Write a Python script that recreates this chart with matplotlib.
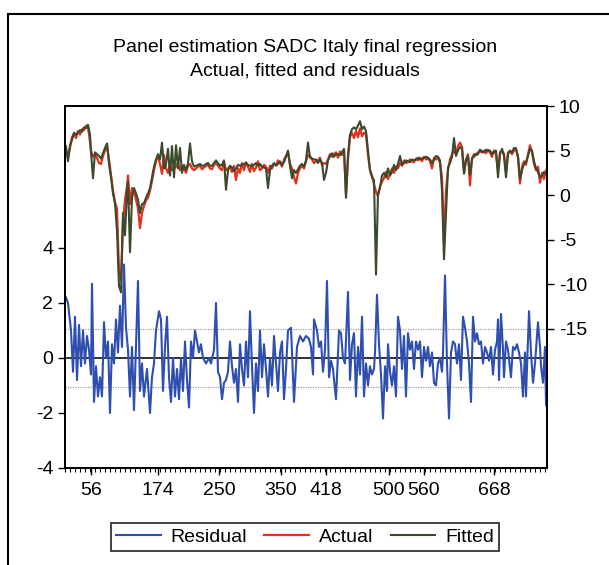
import matplotlib
matplotlib.use('Agg')
import matplotlib.pyplot as plt
from matplotlib.lines import Line2D
from matplotlib.ticker import MultipleLocator

plt.rcParams['font.family'] = ['Liberation Sans', 'DejaVu Sans']
plt.rcParams['axes.unicode_minus'] = False

# observation index along the panel (position on the axis)
top_x = ([1, 3, 5, 7, 9, 11, 13, 15, 17, 19, 21, 23, 25,
          26, 28, 30, 32, 34, 36, 38, 40, 42, 44, 46, 48, 50, 52, 54, 56, 58, 60, 62, 63]
         + list(range(65, 484, 2)))

actual = [5.0, 4.2, 5.3, 6.5, 6.9, 6.4, 7.2, 6.8, 7.4, 7.3, 7.8, 7.6, 6.0,
          5.0, 4.3, 4.6, 4.2, 3.6, 3.5, 4.4, 5.0, 5.6, 4.0, 2.2, 0.5, -0.8, -1.5, -8.5, -9.5, -3.0, -0.5, 1.0, 2.2,
          -1.0, 0.8, 0.6, -0.5, -1.5, -3.7, -2.0, -1.2, -0.6, -0.3,
          0.5, 1.6, 2.8, 3.8, 4.4, 3.5, 2.4, 4.5, 3.0, 2.5,
          3.5, 2.8, 3.0, 3.2, 3.6, 2.8, 3.3, 3.0, 2.5, 3.3,
          3.5, 3.0, 2.8, 3.0, 3.2, 3.3, 2.9, 3.1, 3.3, 3.4,
          3.0, 2.9, 3.4, 3.6, 3.3, 3.0, 2.8, 3.8, 2.8, 3.0,
          3.2, 2.6, 3.3, 1.7, 3.0, 2.5, 3.6, 2.8, 3.7, 3.2,
          2.6, 3.5, 2.7, 3.1, 3.8, 2.8, 3.0, 3.4, 3.2, 2.5,
          3.3, 3.0, 3.5, 3.4, 3.9, 3.6, 3.2, 4.0, 4.4, 4.8,
          3.5, 3.0, 2.0, 1.3, 2.5, 3.0, 3.3, 3.0, 3.8, 4.5,
          4.4, 4.0, 3.6, 3.8, 3.9, 4.2, 3.4, 3.6, 3.5, 4.0,
          4.6, 4.3, 4.6, 4.8, 4.2, 4.9, 4.5, 5.0, 0.0, 4.0,
          6.5, 7.0, 6.4, 7.2, 6.5, 7.5, 6.6, 7.0, 6.8, 4.5,
          2.8, 2.2, 1.2, 0.4, -0.1, 1.0, 1.5, 1.9, 2.6, 1.8,
          2.4, 3.0, 2.5, 3.2, 3.0, 3.6, 3.3, 3.9, 3.6, 3.7,
          4.0, 3.8, 3.7, 4.1, 3.9, 4.2, 3.8, 4.3, 4.0, 4.1,
          3.8, 3.0, 4.2, 4.0, 4.2, 3.6, 2.0, -5.3, 0.5, 2.8,
          4.0, 4.6, 5.0, 4.6, 5.5, 5.9, 5.4, 2.6, 4.0, 4.6,
          1.1, 4.2, 4.3, 4.6, 4.8, 4.9, 4.8, 5.0, 4.7, 5.1,
          4.8, 4.3, 5.0, 4.6, 2.8, 4.8, 5.0, 4.6, 2.5, 4.8,
          4.9, 4.6, 5.0, 5.3, 4.2, 1.3, 3.2, 3.8, 3.4, 4.6,
          5.6, 4.8, 3.5, 2.8, 3.2, 1.4, 2.5, 1.8, 2.8, 2.2]

fitted = [5.5, 3.8, 5.6, 6.2, 7.0, 6.8, 7.0, 7.3, 7.1, 7.6, 7.5, 7.9, 6.8,
          4.8, 1.9, 4.8, 4.6, 4.4, 4.1, 4.7, 5.3, 5.8, 3.5, 2.0, 0.2, -0.9, -4.0, -10.2, -10.9, -2.0, -4.5, 0.5, 1.5,
          -6.4, -0.3, 0.8, 0.2, -0.5, -2.0, -1.0, -0.9, -0.3, 0.2,
          0.8, 2.0, 3.2, 4.0, 4.6, 4.0, 5.9, 3.0, 3.5, 5.2,
          2.2, 5.5, 2.0, 5.6, 3.0, 5.3, 2.5, 3.4, 2.8, 3.6,
          5.8, 3.8, 3.2, 3.3, 3.4, 3.5, 3.3, 3.3, 3.5, 3.6,
          3.3, 3.3, 3.6, 3.9, 3.6, 3.3, 3.4, 3.9, 0.6, 2.8,
          3.3, 3.1, 2.7, 3.0, 3.4, 3.3, 3.4, 3.5, 3.6, 3.4,
          3.3, 3.3, 3.4, 3.6, 3.3, 3.5, 3.2, 3.1, 3.0, 0.8,
          2.8, 3.3, 3.6, 3.3, 3.5, 3.8, 3.4, 3.7, 4.3, 5.0,
          3.3, 1.9, 2.8, 2.5, 2.9, 3.3, 3.5, 3.2, 3.9, 5.9,
          4.2, 4.1, 4.0, 4.0, 3.6, 4.0, 3.6, 1.7, 2.5, 3.9,
          4.4, 4.7, 4.3, 4.6, 4.6, 4.5, 4.8, 5.2, -0.3, 4.5,
          6.8, 7.4, 7.6, 7.4, 7.8, 8.3, 7.4, 7.7, 7.2, 5.0,
          2.8, 2.0, 1.7, -8.9, 0.2, 0.8, 2.2, 2.5, 2.0, 3.0,
          2.2, 2.6, 3.4, 2.8, 3.5, 4.4, 3.4, 3.6, 3.9, 3.8,
          3.7, 4.0, 3.9, 4.0, 4.2, 4.0, 4.1, 4.2, 4.3, 4.2,
          4.0, 3.6, 4.0, 4.4, 4.3, 3.9, 0.5, -7.2, -2.0, 3.1,
          3.6, 4.3, 6.4, 4.4, 5.0, 5.4, 5.2, 2.4, 3.9, 4.4,
          2.3, 4.0, 4.6, 4.5, 4.6, 5.1, 4.9, 4.8, 5.1, 4.9,
          5.0, 4.6, 4.9, 5.0, 2.0, 4.6, 5.2, 4.4, 2.0, 4.6,
          5.0, 4.8, 5.3, 5.1, 4.4, 1.8, 2.8, 3.5, 3.7, 4.4,
          5.2, 5.0, 3.8, 3.0, 2.6, 2.0, 2.2, 2.6, 2.4, 2.8]

resid_x = [1, 3, 6, 8, 10, 12, 14, 16, 18, 20, 22, 24, 26, 27, 29, 31, 33, 35, 37, 39,
           41, 43, 45, 47, 49, 51, 53, 55, 57, 59, 61, 63, 65, 67, 69, 71, 73, 75, 77, 79,
           82, 85, 87, 89, 91, 94, 96, 98, 100, 102, 104, 106, 108, 110, 112, 114, 116, 118, 120, 122,
           124, 126, 128, 130, 132, 134, 136, 138, 141, 144, 146, 149, 151, 153, 155, 157, 159, 161, 163, 165,
           167, 169, 171, 173, 175, 177, 179, 181, 183, 185, 187, 189, 191, 193, 195, 197, 199, 201, 203, 205,
           207, 209, 211, 213, 215, 217, 219, 221, 223,
           226, 229, 232, 235, 238, 241, 244, 246, 248, 249, 252, 254, 256, 258, 260, 262, 264, 266, 268, 271,
           274, 276, 278, 280, 283, 285, 287, 289, 291, 293, 295, 297, 299, 301, 303, 305, 307, 309, 310, 312,
           314, 316, 318, 320, 322, 323, 325, 327, 329, 331, 333, 335, 337, 339, 341, 343, 345, 347, 349, 351,
           353, 355, 357, 359, 361, 363, 365, 367, 369, 371, 373, 375, 377, 378, 380, 382, 384, 386, 388, 390,
           392, 394, 396, 398, 400, 402, 404, 406, 408, 410, 412, 414, 416, 418, 420, 422, 424, 426, 428, 430,
           432, 433, 434, 436, 438, 439, 441, 443, 446, 448, 450, 452, 454, 456, 458, 460, 461, 464, 466, 468,
           470, 473, 475, 476, 478, 480, 481, 483]

residual = [2.2, 2.0, 1.0, -0.5, 1.5, -0.8, 1.2, -0.3, 1.0, -0.2, 0.8, 0.3, -0.6, 2.7, -1.6, -0.3, -1.4, -0.7, -1.4, 1.3,
            0.0, 0.6, -2.0, 0.5, -0.2, 1.4, 0.2, 1.9, 0.4, 3.4, 1.1, 0.3, -1.4, 0.4, -1.9, 0.5, 2.8, -1.2, -0.2, -1.4,
            -0.4, -2.0, -0.7, -0.2, 1.0, 1.7, 1.4, -1.2, 0.4, 1.5, -0.7, -1.6, 0.0, -1.4, -0.4, -1.5, 0.0, -1.2, 0.6, -0.8,
            -1.8, 0.6, 0.0, 1.0, 0.6, 0.2, 0.5, 0.0, -0.2, 0.0, -0.2, 0.3, 2.0, -0.5, -0.7, -1.5, -0.9, -0.8, -0.5, 0.6,
            -0.3, -0.9, -0.4, -1.6, 0.5, -0.4, -1.0, 0.6, -0.7, 1.7, -0.3, -2.0, -0.2, -1.2, 1.0, -0.7, 0.5, -0.4, -1.4, 0.0,
            -1.0, 0.8, -0.2, -1.2, 0.2, 0.6, -1.5, -0.4, 1.0,
            1.1, -1.6, 0.4, 0.8, 0.6, 0.8, 0.7, 0.4, -0.6, 1.4, 1.0, 0.4, 0.6, -0.5, 0.3, 2.8, -0.7, -0.1, -0.4, -1.5,
            1.0, 0.9, 0.0, -0.2, 2.4, -0.8, 0.5, 0.9, -1.4, 0.4, -0.6, 1.5, -1.4, -0.2, -1.0, -0.3, -0.6, -0.4, 0.2, 2.3,
            0.5, -0.6, -2.2, -0.3, -1.2, 0.5, -0.5, -1.0, -0.3, -1.4, 1.5, 1.0, -0.4, 0.8, -1.4, 0.9, 0.3, 0.6, -0.4, 0.6,
            0.3, 0.6, -0.7, 0.4, -0.1, 0.4, -0.3, 0.2, -0.9, -1.0, -0.2, 0.0, -0.5, 0.2, 3.0, -0.2, -2.2, 0.2, 0.6, 0.5,
            -0.2, 0.5, -0.8, 1.5, 1.1, 0.6, -0.2, -1.6, 1.5, 0.6, 0.9, 0.5, 0.6, -0.2, 0.4, 0.2, -0.1, 0.4, -0.6, 0.3,
            0.6, 1.4, -0.8, 1.6, 0.3, -0.7, 0.6, 0.3, -0.7, 0.4, 0.3, 0.5, 0.2, -0.2, -1.4, 0.2, -1.4, 1.7, 0.2, -0.9,
            -0.2, 1.3, 0.4, -0.3, -0.9, 0.4, -1.7, -1.9]

resid_sd = 1.05

tick_pos = [26, 93, 154, 216, 261, 324, 359, 429]
tick_labels = ['56', '174', '250', '350', '418', '500', '560', '668']

fig = plt.figure(figsize=(6.09, 5.65), dpi=100)
fig.patch.set_facecolor('white')

ax = fig.add_axes([65 / 609, 1 - 468 / 565, 482 / 609, 362 / 565])
ax2 = ax.twinx()
ax.set_zorder(ax2.get_zorder() + 1)
ax.patch.set_visible(False)

ax.axhline(0, color='#303030', lw=1.4, zorder=1)
ax.axhline(resid_sd, color='#a0a0a0', lw=0.9, ls=(0, (1, 1)), zorder=1)
ax.axhline(-resid_sd, color='#a0a0a0', lw=0.9, ls=(0, (1, 1)), zorder=1)
res_line, = ax.plot(resid_x, residual, color='#2f4fb0', lw=1.5, zorder=2, label='Residual')

act_line, = ax2.plot(top_x, actual, color='#e4301c', lw=1.6, label='Actual')
fit_line, = ax2.plot(top_x, fitted, color='#3a4a2c', lw=1.5, label='Fitted')

ax.set_xlim(0, 482)
ax.set_ylim(-4, 9.16)
ax2.set_ylim(-30.6, 10)

ax.set_yticks([-4, -2, 0, 2, 4])
ax2.set_yticks([-15, -10, -5, 0, 5, 10])
ax.set_xticks(tick_pos, tick_labels)
ax.xaxis.set_minor_locator(MultipleLocator(5))

ax.tick_params(axis='both', which='major', direction='out', length=5, width=1,
               labelsize=14, colors='black')
ax.tick_params(axis='x', which='minor', direction='out', length=3, width=0.8)
ax.tick_params(axis='x', pad=5)
ax2.tick_params(axis='y', direction='out', length=5, width=1, labelsize=14)

for a in (ax, ax2):
    for sp in a.spines.values():
        sp.set_linewidth(1.4)
        sp.set_color('black')

fig.text(305 / 609, 1 - 47 / 565, 'Panel estimation SADC Italy final regression',
         ha='center', va='center', fontsize=14)
fig.text(305 / 609, 1 - 71 / 565, 'Actual, fitted and residuals',
         ha='center', va='center', fontsize=14)

leg = fig.legend(handles=[res_line, act_line, fit_line], loc='center',
                 bbox_to_anchor=(305 / 609, 1 - 537 / 565), ncol=3, fontsize=14,
                 frameon=True, fancybox=False, handlelength=2.3, columnspacing=0.9,
                 handletextpad=0.5, borderpad=0.25)
leg.get_frame().set_edgecolor('black')
leg.get_frame().set_linewidth(1.3)

# scanned page border
fig.add_artist(Line2D([8 / 609, 8 / 609], [0, 1 - 14 / 565], transform=fig.transFigure,
                      color='black', lw=1.5))
fig.add_artist(Line2D([8 / 609, 1], [1 - 14 / 565, 1 - 14 / 565], transform=fig.transFigure,
                      color='black', lw=1.5))

fig.savefig('out.png', dpi=100)
